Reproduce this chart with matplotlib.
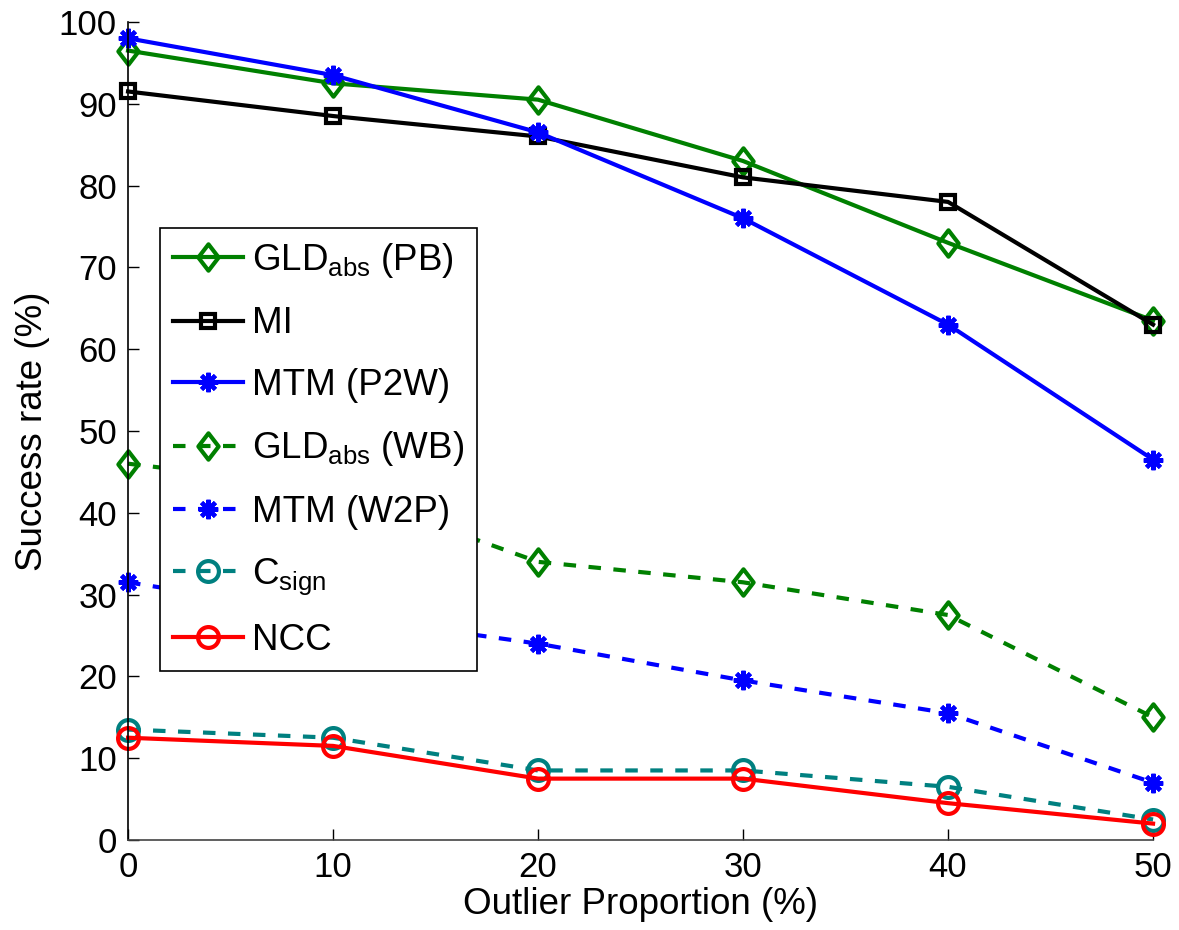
import numpy as np
import matplotlib.pyplot as plt
from matplotlib.path import Path

plt.rcParams['font.family'] = ['Liberation Sans', 'DejaVu Sans']
plt.rcParams['mathtext.fontset'] = 'custom'
plt.rcParams['mathtext.rm'] = 'Liberation Sans'
plt.rcParams['mathtext.it'] = 'Liberation Sans'

# -------------------------------
# Datos
# -------------------------------
outliers = [0, 10, 20, 30, 40, 50]

gld_pb = [96.5, 92.5, 90.5, 83, 73, 63.5]
mi = [91.5, 88.5, 86, 81, 78, 63]
mtm_p2w = [98, 93.5, 86.5, 76, 63, 46.5]
gld_wb = [46, 43, 34, 31.5, 27.5, 15]
mtm_w2p = [31.5, 27.5, 24, 19.5, 15.5, 7]
c_sign = [13.5, 12.5, 8.5, 8.5, 6.5, 2.5]
ncc = [12.5, 11.5, 7.5, 7.5, 4.5, 2]

labels = [r'GLD$_{\mathrm{abs}}$ (PB)', 'MI', 'MTM (P2W)',
          r'GLD$_{\mathrm{abs}}$ (WB)', 'MTM (W2P)', r'C$_{\mathrm{sign}}$', 'NCC']

# rombo algo más alto que ancho
diamond = Path([(0, 1), (0.77, 0), (0, -1), (-0.77, 0), (0, 1)],
               [Path.MOVETO, Path.LINETO, Path.LINETO, Path.LINETO, Path.CLOSEPOLY])
asterisk = (8, 2, 0)

series = [
    (gld_pb, '#008000', '-', diamond, 19),
    (mi, '#000000', '-', 's', 10),
    (mtm_p2w, '#0000ff', '-', asterisk, 14),
    (gld_wb, '#008000', '--', diamond, 19),
    (mtm_w2p, '#0000ff', '--', asterisk, 14),
    (c_sign, '#008080', '--', 'o', 15),
    (ncc, '#ff0000', '-', 'o', 15),
]

# -------------------------------
# Gráfica
# -------------------------------
fig = plt.figure(figsize=(11.79, 9.3), dpi=100)
ax = fig.add_axes([0.1086, 0.0968, 0.8694, 0.8796])

for (vals, color, ls, mk, ms), lab in zip(series, labels):
    line, = ax.plot(outliers, vals, color=color, linestyle=ls, linewidth=3,
                    marker=mk, markersize=ms, markerfacecolor='none',
                    markeredgecolor=color, markeredgewidth=3, label=lab,
                    clip_on=False)
    if ls == '--':
        line.set_dashes((3, 3))

ax.set_xlim(0, 50)
ax.set_ylim(0, 100)
ax.set_xticks(np.arange(0, 51, 10))
ax.set_yticks(np.arange(0, 101, 10))
ax.tick_params(direction='in', length=8, width=1, labelsize=25, pad=8)
for s in ['top', 'right']:
    ax.spines[s].set_visible(False)
ax.spines['left'].set_linewidth(1.2)
ax.spines['bottom'].set_linewidth(1.2)
ax.spines['bottom'].set_color('#444444')

ax.set_xlabel('Outlier Proportion (%)', fontsize=26.5, labelpad=2)
ax.set_ylabel('Success rate (%)', fontsize=26.5, labelpad=6)

leg = ax.legend(loc='upper left', bbox_to_anchor=(0.031, 0.748), borderaxespad=0,
                fontsize=26.5, frameon=True, fancybox=False, framealpha=1,
                edgecolor='black', handlelength=1.9, handletextpad=0.25,
                labelspacing=0.72, borderpad=0.35)
leg.get_frame().set_linewidth(1.2)

fig.savefig('out.png', dpi=100)
plt.close()
